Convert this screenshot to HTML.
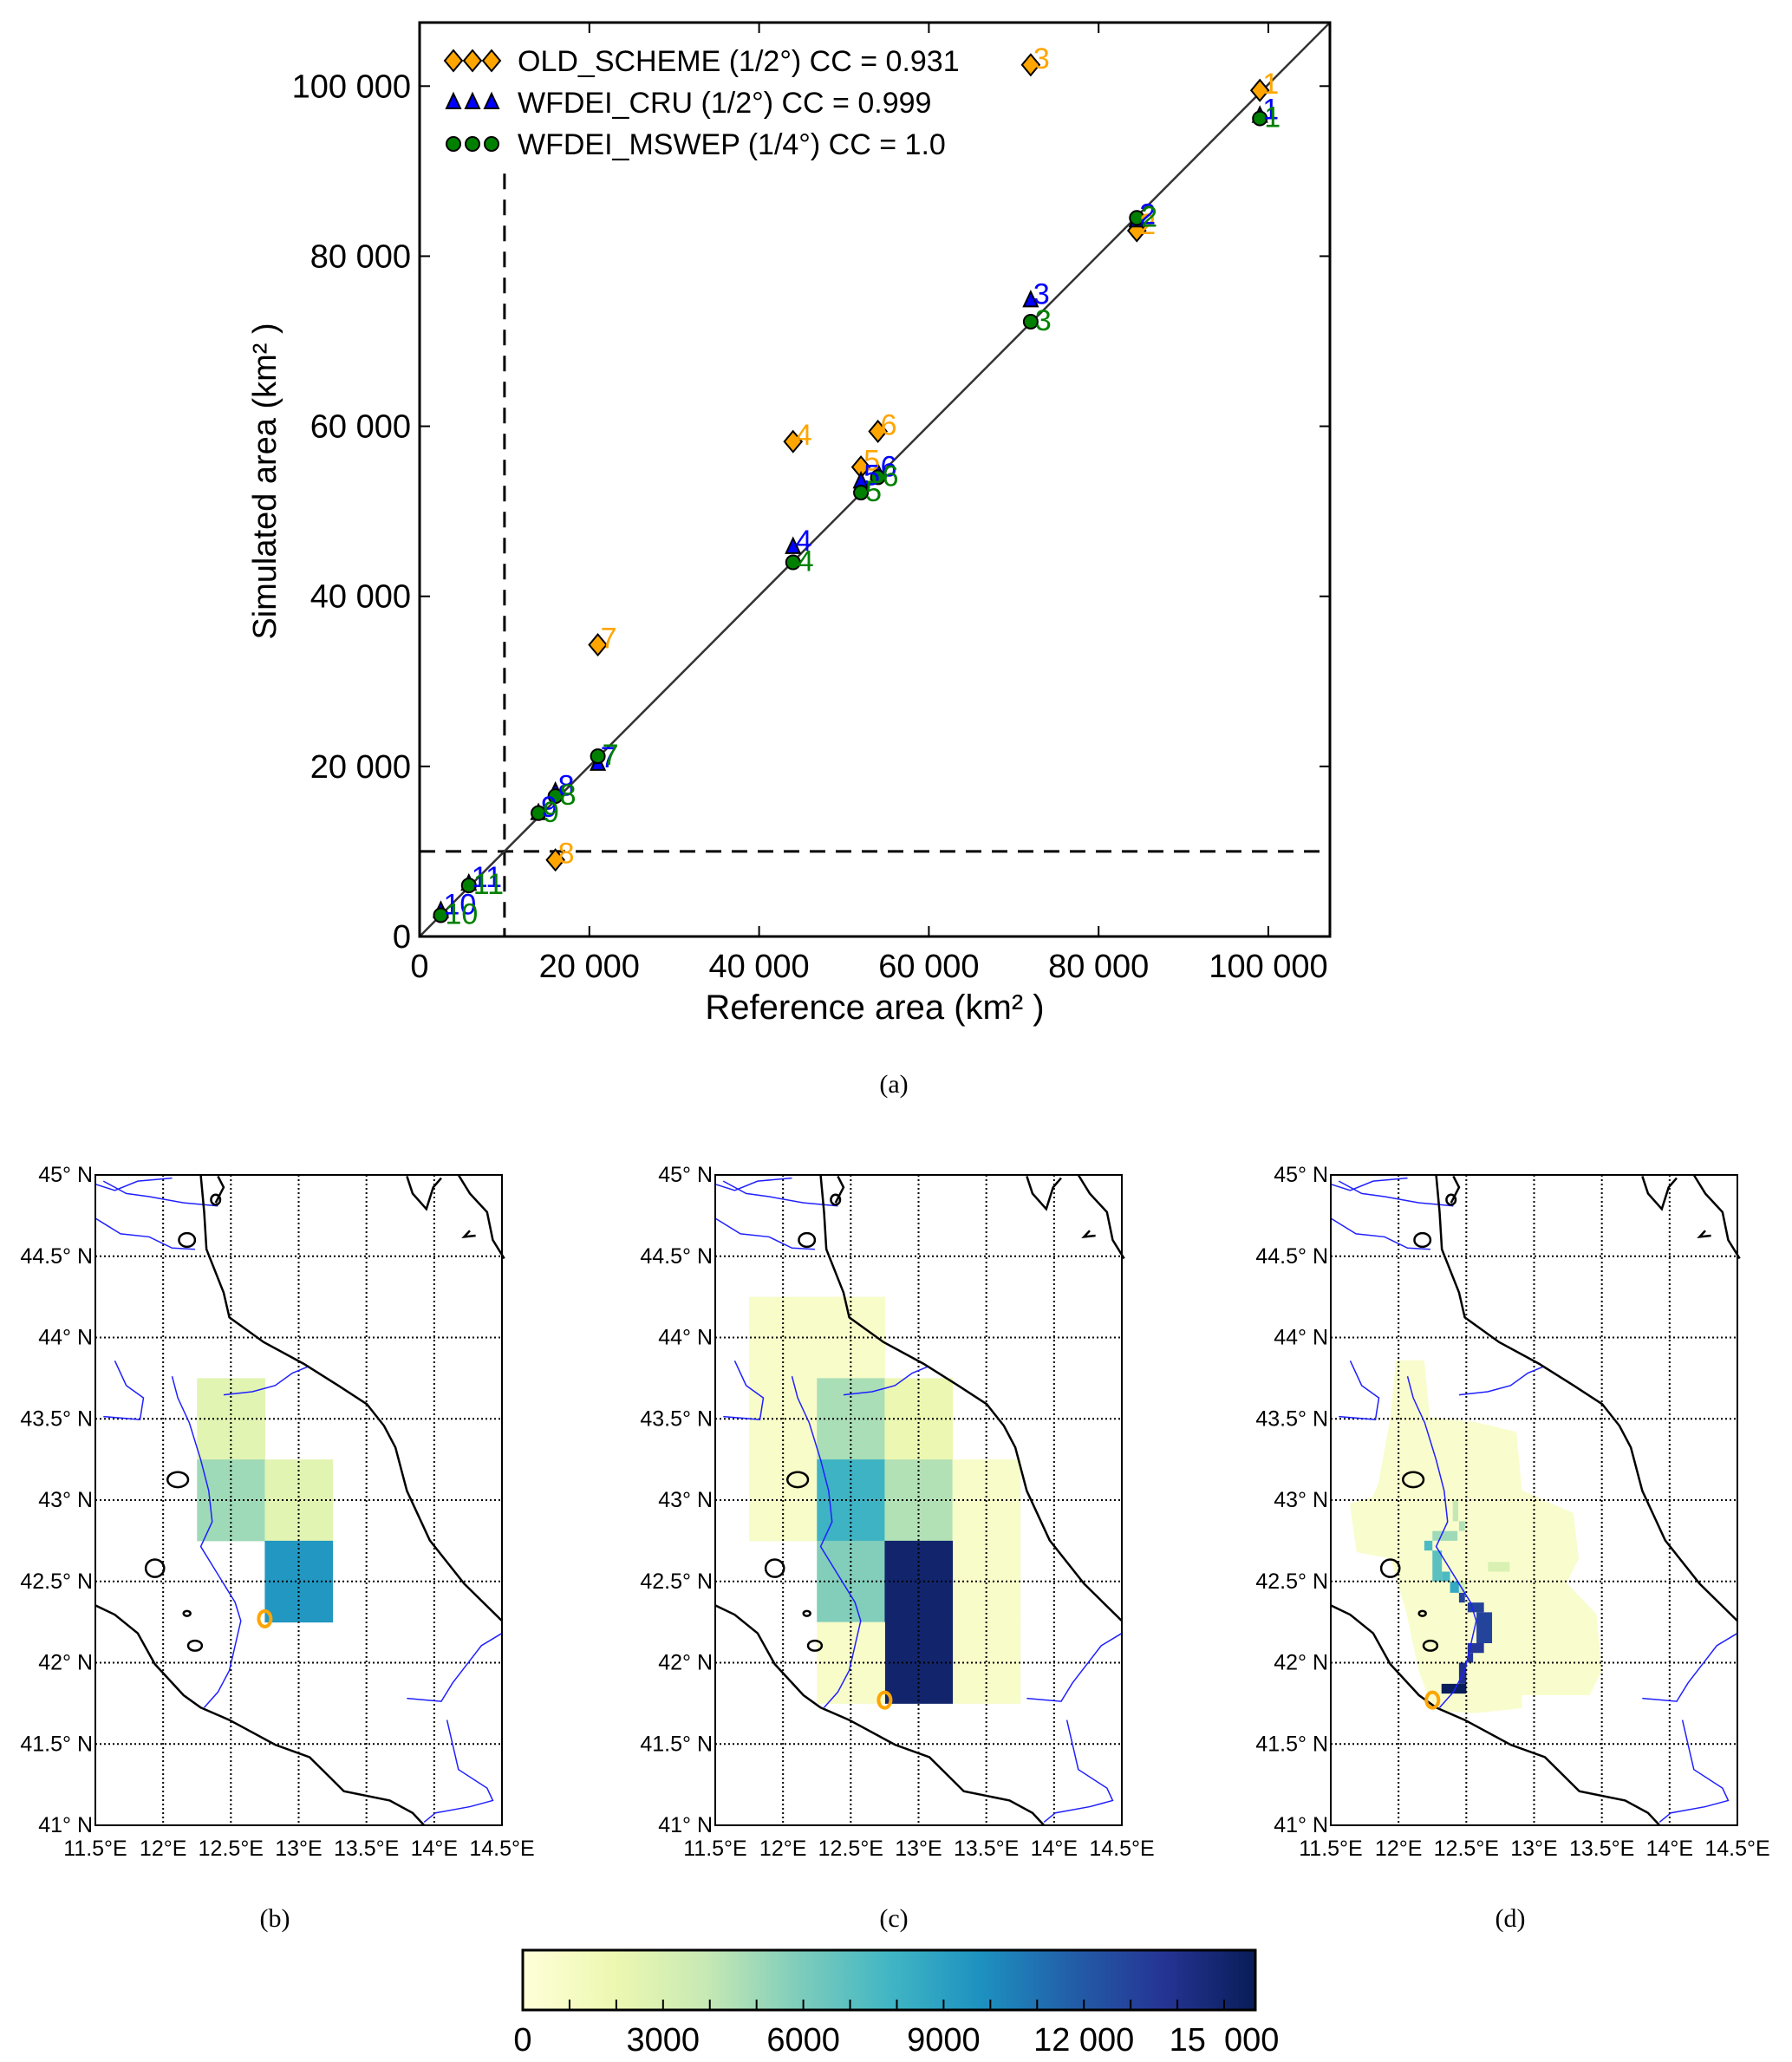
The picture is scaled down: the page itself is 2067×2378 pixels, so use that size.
<!DOCTYPE html>
<html><head><meta charset="utf-8"><style>
body{margin:0;background:#fff;}
svg{display:block;font-family:"Liberation Sans Narrow","Liberation Sans",sans-serif;}
</style></head><body>
<svg id="s" width="2067" height="2378" viewBox="0 0 2067 2378" xmlns="http://www.w3.org/2000/svg">
<rect width="2067" height="2378" fill="#fff"/>
<g id="scatter"></g>
<g id="maps"></g>
<g id="cbar"></g>
<text x="1031" y="1260" font-family="Liberation Serif,serif" font-size="30" text-anchor="middle">(a)</text>
<text x="317" y="2222" font-family="Liberation Serif,serif" font-size="30" text-anchor="middle">(b)</text>
<text x="1031" y="2222" font-family="Liberation Serif,serif" font-size="30" text-anchor="middle">(c)</text>
<text x="1742" y="2222" font-family="Liberation Serif,serif" font-size="30" text-anchor="middle">(d)</text>
</svg>
<script>
// ---- scatter data ----
const labels=["1","2","3","4","5","6","7","8","9","10","11"];
const refArea=[99000,84500,72000,44000,52000,54000,21000,16000,14000,2500,5800];
const oldScheme=[99500,83000,102500,58200,55200,59400,34300,9000,null,null,null];
const wfdeiCru=[96500,84200,74800,45800,53500,54500,20300,17000,14500,3000,6200];
const wfdeiMswep=[96200,84500,72300,44000,52200,54000,21200,16500,14500,2500,6000];
const xTicks=[0,20000,40000,60000,80000,100000];
const yTicks=[0,20000,40000,60000,80000,100000];
const xTickLabels=["0","20 000","40 000","60 000","80 000","100 000"];
const yTickLabels=["0","20 000","40 000","60 000","80 000","100 000"];
// ---- colorbar / map data ----
const cbTicks=[0,3000,6000,9000,12000,15000];
const cbTickLabels=["0","3000","6000","9000","12 000","15\u00a0\u00a0000"];
const mapBCells=[[12.25,43.25,2500],[12.25,42.75,5000],[12.75,42.75,2500],[12.75,42.25,9500]];
const mapCCells=[[11.75,43.75,800],[12.25,43.75,800],[11.75,43.25,800],[11.75,42.75,800],[12.25,43.25,4700],[12.75,43.25,2000],[12.25,42.75,8000],[12.75,42.75,4500],[13.25,42.75,800],[13.25,42.25,800],[13.25,41.75,800],[12.25,42.25,5800],[12.75,42.25,15000],[12.75,41.75,15000],[12.25,41.75,800]];
const mapDPale=[[11.98,43.86],[12.19,43.86],[12.23,43.51],[12.57,43.48],[12.87,43.42],[12.91,43.06],[13.29,42.92],[13.33,42.64],[13.24,42.49],[13.46,42.30],[13.5,41.95],[13.41,41.8],[12.91,41.8],[12.91,41.72],[12.57,41.69],[12.36,41.7],[12.23,41.76],[12.15,41.95],[12.11,42.1],[12.06,42.3],[11.94,42.64],[11.69,42.68],[11.64,42.98],[11.81,43.02],[11.85,43.1],[11.94,43.51]];
// [lon0, lat0(top), lon1, lat1(bottom), value]
const mapDCells=[[12.446,42.43,12.49,42.37,13000],[12.51,42.37,12.63,42.31,13000],[12.575,42.31,12.69,42.12,13000],[12.51,42.12,12.63,42.06,13500],[12.51,42.06,12.55,42.0,13500],[12.446,42.0,12.5,41.87,14000],[12.317,41.87,12.5,41.81,15600],[12.19,42.75,12.25,42.69,7500],[12.25,42.69,12.32,42.5,7000],[12.32,42.56,12.38,42.5,7500],[12.38,42.5,12.446,42.43,8500],[12.25,42.81,12.435,42.75,5000],[12.446,42.87,12.49,42.81,4500],[12.40,43.0,12.44,42.87,4000],[12.446,42.5,12.49,42.43,3500],[12.66,42.62,12.82,42.56,3000]];

const NS="http://www.w3.org/2000/svg";
function el(p,t,a){const e=document.createElementNS(NS,t);for(const k in a)e.setAttribute(k,a[k]);p.appendChild(e);return e;}
const sc=document.getElementById('scatter');
const L=484,R=1534,T=26,B=1080;
const sx=v=>L+v*(1463-L)/100000;
const sy=v=>B-v*(B-99.3)/100000;
let e=el(sc,'line',{x1:sx(10000),x2:sx(10000),y1:sy(89700),y2:B,stroke:'#000','stroke-width':3,'stroke-dasharray':'18,12'});


e=el(sc,'line',{x1:L,x2:R,y1:sy(10000),y2:sy(10000),stroke:'#000','stroke-width':3,'stroke-dasharray':'18,12'});


e=el(sc,'line',{x1:L,y1:B,x2:R,y2:T,stroke:'#333','stroke-width':2.5});


xTicks.forEach((v,i)=>{const x=sx(v);
 el(sc,'line',{x1:x,x2:x,y1:B,y2:B-12,stroke:'#000','stroke-width':2});
 el(sc,'line',{x1:x,x2:x,y1:T,y2:T+12,stroke:'#000','stroke-width':2});
 const t=el(sc,'text',{x:x,y:B+47,'font-size':38,'text-anchor':'middle'});t.textContent=xTickLabels[i];
 
 });
yTicks.forEach((v,i)=>{const y=sy(v);
 el(sc,'line',{x1:L,x2:L+12,y1:y,y2:y,stroke:'#000','stroke-width':2});
 el(sc,'line',{x1:R,x2:R-12,y1:y,y2:y,stroke:'#000','stroke-width':2});
 const t=el(sc,'text',{x:L-10,y:y+13,'font-size':38,'text-anchor':'end'});t.textContent=yTickLabels[i];
 
 });
e=el(sc,'rect',{x:L,y:T,width:R-L,height:B-T,fill:'none',stroke:'#000','stroke-width':3});


function diamond(x,y){return el(sc,'path',{d:`M${x},${y-12}L${x+10},${y}L${x},${y+12}L${x-10},${y}Z`,fill:'#ffa500',stroke:'#000','stroke-width':2});}
function tri(x,y){return el(sc,'path',{d:`M${x},${y-10}L${x+8},${y+7}L${x-8},${y+7}Z`,fill:'#0000ff',stroke:'#000','stroke-width':2});}
function circ(x,y){return el(sc,'circle',{cx:x,cy:y,r:8,fill:'#008000',stroke:'#000','stroke-width':2});}
function lab(x,y,s,c){const t=el(sc,'text',{x:x+3,y:y+4,'font-size':34,fill:c,'font-family':'Liberation Sans,sans-serif'});t.textContent=s;return t;}
labels.forEach((s,i)=>{
 if(oldScheme[i]!=null){const m=diamond(sx(refArea[i]),sy(oldScheme[i]));
  
  }
 const m2=tri(sx(refArea[i]),sy(wfdeiCru[i]));
 
 
 const m3=circ(sx(refArea[i]),sy(wfdeiMswep[i]));
 
 
});
labels.forEach((s,i)=>{
 if(oldScheme[i]!=null){const t=lab(sx(refArea[i]),sy(oldScheme[i]),s,'#ffa500');
  
  }
 const t2=lab(sx(refArea[i]),sy(wfdeiCru[i]),s,'#0000ff');
 
 
 const t3=lab(sx(refArea[i])+2,sy(wfdeiMswep[i])+6,s,'#008000');
 
 
});
const leg=[["OLD_SCHEME (1/2°)  CC = 0.931",diamond],["WFDEI_CRU (1/2°)  CC = 0.999",tri],["WFDEI_MSWEP (1/4°)  CC = 1.0",circ]];
leg.forEach((l,i)=>{const y=70+i*48;[0,1,2].forEach(k=>l[1](523+k*22,y));
 const t=el(sc,'text',{x:597,y:y+12,'font-size':34,'xml:space':'preserve'});t.textContent=l[0];
 
 });
e=el(sc,'text',{x:1009,y:1175,'font-size':40,'text-anchor':'middle'});e.textContent="Reference area (km² )";


e=el(sc,'text',{x:0,y:0,'font-size':38,'text-anchor':'middle','font-family':'Liberation Sans,sans-serif',transform:'translate(318,555) rotate(-90)'});e.textContent="Simulated area (km² )";



const stops=["#ffffd9","#edf8b1","#c7e9b4","#7fcdbb","#41b6c4","#1d91c0","#225ea8","#253494","#081d58"];
const VMAX=15667;
function hx(c){return [1,3,5].map(i=>parseInt(c.substr(i,2),16));}
function cmap(v){let t=Math.max(0,Math.min(1,v/VMAX))*(stops.length-1);let i=Math.min(stops.length-2,Math.floor(t));let f=t-i;const a=hx(stops[i]),b=hx(stops[i+1]);return `rgb(${a.map((x,k)=>Math.round(x+(b[k]-x)*f)).join(',')})`;}

const mg=document.getElementById('maps');
const MAPL=[110,825,1535],MW=469,MT=1355,MB=2105;
const coast=[[[175,140],[178,200],[180,260],[195,330],[200,370],[230,410],[265,445],[295,480],[320,510],[335,545],[345,580],[355,650],[375,730],[405,800],[438,860]],
[[83,835],[100,850],[120,880],[135,930],[160,980],[175,1000],[200,1020],[240,1060],[270,1080],[300,1135],[340,1150],[360,1170],[370,1190]],
[[355,142],[360,170],[372,195],[378,160],[385,145]],[[400,140],[410,170],[425,200],[430,245],[440,275]],[[410,230],[405,240],[415,238]],
[[190,142],[195,160],[188,185]]];
const lakes=[[155,632,9,12],[135,775,8,14],[170,900,6,8],[163,848,3,4],[163,245,7,11],[188,180,4,8]];
const rivers=[[[90,150],[110,170],[130,175],[160,185],[190,190]],[[83,210],[105,235],[130,240],[150,258],[170,260]],[[100,440],[110,480],[125,500],[122,535],[90,530]],
[[150,465],[155,500],[165,540],[175,600],[182,650],[185,700],[175,740],[185,770],[195,800],[205,830],[210,860],[205,900],[200,940],[190,975],[178,1000]],
[[195,495],[220,490],[240,480],[255,460],[268,450]],[[355,985],[385,990],[395,960],[420,900],[438,880]],[[390,1020],[395,1060],[400,1100],[425,1130],[430,1150],[410,1160],[380,1170],[370,1185]],
[[83,155],[100,165],[120,150],[150,145]]];
const zx=x=>11.5+(x-83)/355*3, zy=y=>45-(y-140)/1050*4;
const latTicks=[41,41.5,42,42.5,43,43.5,44,44.5,45];
const latLab=["41° N","41.5° N","42° N","42.5° N","43° N","43.5° N","44° N","44.5° N","45° N"];
const lonTicks=[11.5,12,12.5,13,13.5,14,14.5];
const lonLab=["11.5°E","12°E","12.5°E","13°E","13.5°E","14°E","14.5°E"];
const outlets=[[12.75,42.27],[12.75,41.77],[12.25,41.77]];
const mapNames=['map-b','map-c','map-d'];
MAPL.forEach((ml,mi)=>{
 const g=el(mg,'g',{});
 
 
 const px=lon=>ml+(lon-11.5)/3*MW, py=lat=>MT+(45-lat)/4*(MB-MT);
 const cs=0.5;
 if(mi<2){(mi==0?mapBCells:mapCCells).forEach(c=>{const r=el(g,'rect',{x:px(c[0]),y:py(c[1]+cs),width:px(c[0]+cs)-px(c[0])+0.5,height:py(c[1])-py(c[1]+cs)+0.5,fill:cmap(c[2])});
  
  });}
 else{const p=el(g,'polygon',{points:mapDPale.map(q=>px(q[0])+','+py(q[1])).join(' '),fill:cmap(600)});
  
  
  mapDCells.forEach(c=>{const r=el(g,'rect',{x:px(c[0]),y:py(c[1]),width:px(c[2])-px(c[0]),height:py(c[3])-py(c[1]),fill:cmap(c[4])});
  
  });}
 latTicks.forEach((v,i)=>{el(g,'line',{x1:ml,x2:ml+MW,y1:py(v),y2:py(v),stroke:'#000','stroke-width':2,'stroke-dasharray':'2,3'});
  const t=el(g,'text',{x:ml-3,y:py(v)+8,'font-size':25,'text-anchor':'end'});t.textContent=latLab[i];
  
  });
 lonTicks.forEach((v,i)=>{el(g,'line',{x1:px(v),x2:px(v),y1:MT,y2:MB,stroke:'#000','stroke-width':2,'stroke-dasharray':'2,3'});
  const t=el(g,'text',{x:px(v),y:MB+35,'font-size':25,'text-anchor':'middle'});t.textContent=lonLab[i];
  
  });
 rivers.forEach(r=>el(g,'polyline',{points:r.map(q=>px(zx(q[0]))+','+py(zy(q[1]))).join(' '),fill:'none',stroke:'#2020ff','stroke-width':1.5}));
 coast.forEach(r=>el(g,'polyline',{points:r.map(q=>px(zx(q[0]))+','+py(zy(q[1]))).join(' '),fill:'none',stroke:'#000','stroke-width':2.5}));
 lakes.forEach(k=>el(g,'ellipse',{cx:px(zx(k[0])),cy:py(zy(k[1])),rx:k[2]*1.32,ry:k[3]*0.72,fill:'none',stroke:'#000','stroke-width':2.5}));
 const o=el(g,'ellipse',{cx:px(outlets[mi][0]),cy:py(outlets[mi][1]),rx:7,ry:9,fill:'none',stroke:'#ffa500','stroke-width':4});
 
 
 el(g,'rect',{x:ml,y:MT,width:MW,height:MB-MT,fill:'none',stroke:'#000','stroke-width':2});
});

const cb=document.getElementById('cbar');
const CL=603,CR=1448,CT=2249,CB=2318;
const cx=v=>CL+v/VMAX*(CR-CL);
const defs=el(cb,'defs',{});const gr=el(defs,'linearGradient',{id:'gr',x1:0,x2:1,y1:0,y2:0});
stops.forEach((s,i)=>el(gr,'stop',{offset:i/(stops.length-1),'stop-color':s}));
e=el(cb,'rect',{x:CL,y:CT,width:CR-CL,height:CB-CT,fill:'url(#gr)',stroke:'#000','stroke-width':3});


for(let v=1000;v<VMAX;v+=1000)el(cb,'line',{x1:cx(v),x2:cx(v),y1:CB,y2:CB-12,stroke:'#000','stroke-width':2});
cbTicks.forEach((v,i)=>{const t=el(cb,'text',{x:cx(v),y:CB+47,'font-size':38,'text-anchor':'middle'});t.textContent=cbTickLabels[i];
 
 });
</script>
</body></html>
